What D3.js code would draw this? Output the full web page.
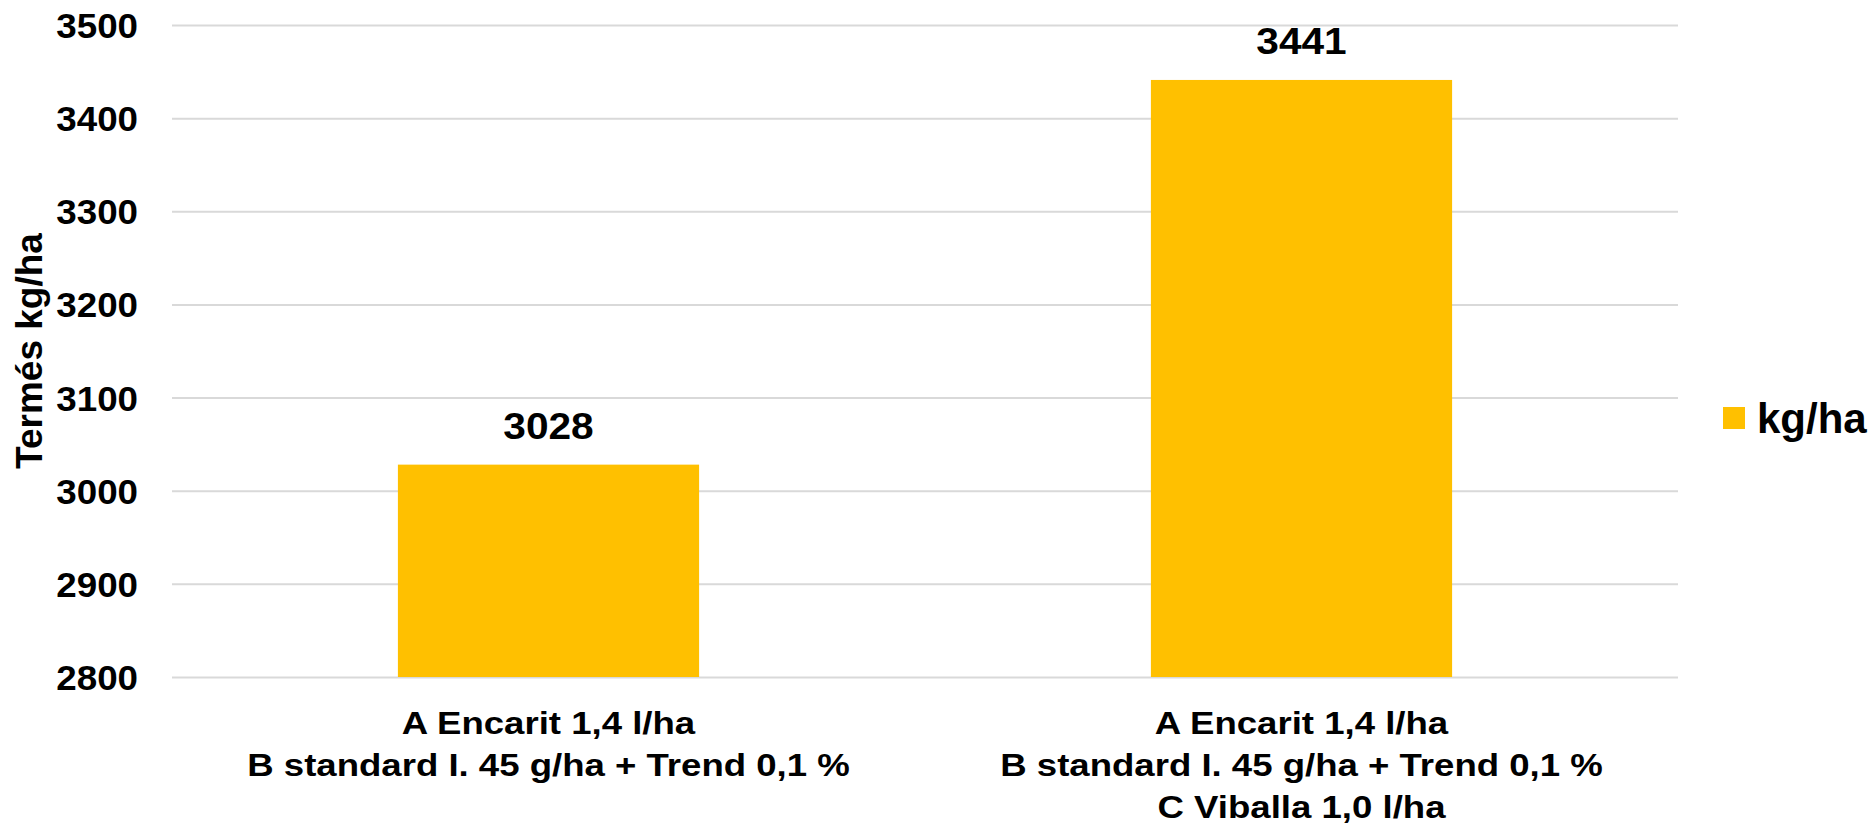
<!DOCTYPE html>
<html>
<head>
<meta charset="utf-8">
<script src="https://cdn.jsdelivr.net/npm/d3@7"></script>
<style>
  html, body { margin: 0; padding: 0; background: #fff; }
  svg { display: block; }
  text { font-family: "Liberation Sans", Arial, sans-serif; font-weight: bold; fill: #000; }
</style>
</head>
<body>
<svg id="chart" width="1870" height="827"></svg>
<script>
// ---- data ----
const categories = [
  ["A Encarit 1,4 l/ha", "B standard I. 45 g/ha + Trend 0,1 %"],
  ["A Encarit 1,4 l/ha", "B standard I. 45 g/ha + Trend 0,1 %", "C Viballa 1,0 l/ha"]
];
const values = [3028, 3441];
const yTicks = [2800, 2900, 3000, 3100, 3200, 3300, 3400, 3500];
const seriesName = "kg/ha";
const yTitle = "Termés kg/ha";

// ---- layout ----
const W = 1870, H = 827;
const plot = { left: 172, right: 1678, top: 25, bottom: 677 };
const barColor = "#FFC000";
const gridColor = "#D9D9D9";

const svg = d3.select("#chart");

const x = d3.scaleBand()
  .domain(d3.range(values.length))
  .range([plot.left, plot.right])
  .paddingInner(0.6)
  .paddingOuter(0.3);

const y = d3.scaleLinear()
  .domain([2800, 3500])
  .range([plot.bottom, plot.top]);

// gridlines + tick labels
const yAxis = d3.axisLeft(y)
  .tickValues(yTicks)
  .tickSize(-(plot.right - plot.left))
  .tickFormat(d3.format("d"));

const gAxis = svg.append("g")
  .attr("transform", `translate(${plot.left},0)`)
  .call(yAxis);
gAxis.select(".domain").remove();
gAxis.selectAll(".tick line")
  .attr("stroke", gridColor)
  .attr("stroke-width", 2);
gAxis.selectAll(".tick text")
  .attr("x", null)
  .attr("dy", "0.355em")
  .attr("transform", `translate(${138 - plot.left},0) scale(1.05,1)`)
  .attr("text-anchor", "end")
  .style("font-size", "35px")
  .style("font-family", "'Liberation Sans', Arial, sans-serif")
  .style("font-weight", "bold")
  .attr("fill", "#000");

// bars
svg.append("g").selectAll("rect")
  .data(values)
  .join("rect")
  .attr("x", (d, i) => x(i))
  .attr("width", x.bandwidth())
  .attr("y", d => y(d))
  .attr("height", d => y(2800) - y(d))
  .attr("fill", barColor);

// data labels
svg.append("g").selectAll("text")
  .data(values)
  .join("text")
  .attr("transform", (d, i) => `translate(${x(i) + x.bandwidth() / 2},${y(d) - 26}) scale(1.13,1)`)
  .attr("text-anchor", "middle")
  .style("font-size", "36px")
  .text(d => d);

// category labels
const gCat = svg.append("g");
categories.forEach((lines, i) => {
  lines.forEach((line, j) => {
    gCat.append("text")
      .attr("transform", `translate(${x(i) + x.bandwidth() / 2},${plot.bottom + 57 + j * 42}) scale(1.18,1)`)
      .attr("text-anchor", "middle")
      .style("font-size", "31px")
      .text(line);
  });
});

// y axis title
svg.append("text")
  .attr("transform", `translate(42,${(plot.top + plot.bottom) / 2}) rotate(-90)`)
  .attr("text-anchor", "middle")
  .style("font-size", "37px")
  .text(yTitle);

// legend
const gLeg = svg.append("g");
gLeg.append("rect")
  .attr("x", 1723).attr("y", 407)
  .attr("width", 22).attr("height", 22)
  .attr("fill", barColor);
gLeg.append("text")
  .attr("x", 1757).attr("y", 433)
  .style("font-size", "42px")
  .text(seriesName);
</script>
</body>
</html>
